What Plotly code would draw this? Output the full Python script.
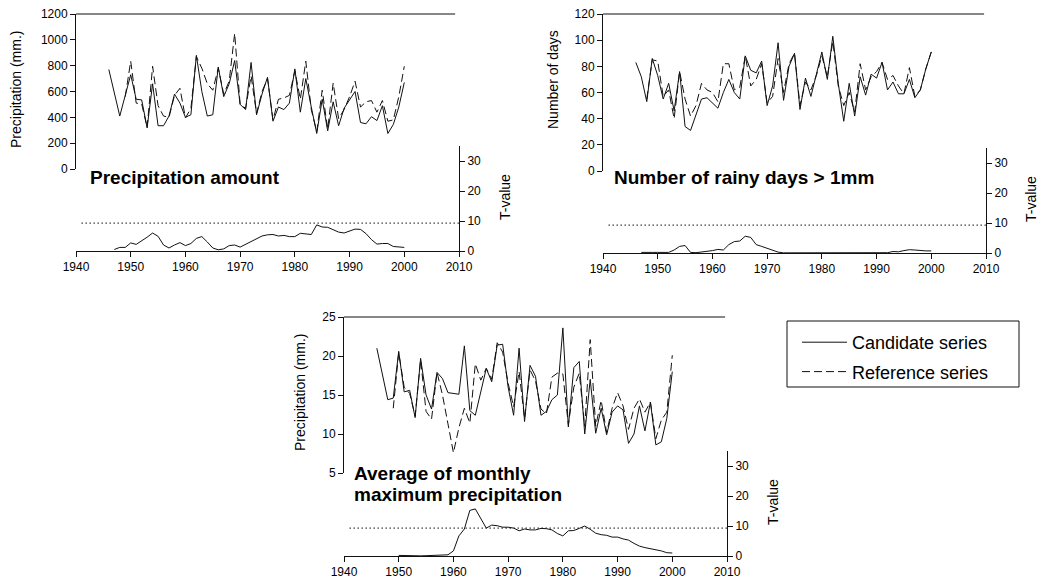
import plotly.graph_objects as go

# ---------------- data ----------------
years = list(range(1946, 2001))

# Panel 1: precipitation amount (mm)
p1_candidate = [770, 590, 410, 570, 730, 540, 535, 320, 660, 335,
                335, 410, 580, 510, 400, 420, 880, 600, 410, 420,
                790, 560, 660, 840, 500, 460, 825, 420, 580, 710,
                370, 480, 460, 510, 775, 440, 700, 480, 275, 540,
                295, 520, 335, 470, 540, 600, 360, 350, 405, 375,
                490, 275, 345, 480, 670]
p1_ref_years = list(range(1949, 2001))
p1_reference = [560, 835, 510, 505, 320, 795, 490, 410, 400, 570,
                625, 395, 470, 870, 780, 660, 610, 780, 580, 680,
                1050, 500, 470, 720, 430, 600, 700, 380, 540, 550,
                570, 760, 540, 835, 460, 290, 610, 310, 665, 390,
                460, 560, 680, 480, 520, 530, 440, 530, 370, 380,
                560, 795]
t_years_a = list(range(1947, 2001))
p1_tvalue = [0.5, 1.2, 1.2, 2.7, 2.2, 3.3, 4.6, 6.0, 4.9, 2.0,
             1.0, 2.0, 2.8, 1.8, 2.5, 4.2, 4.8, 3.0, 1.0, 0.4,
             0.7, 1.8, 2.0, 1.3, 2.2, 3.2, 4.0, 5.0, 5.4, 5.5,
             5.0, 5.2, 4.8, 4.8, 5.9, 5.8, 5.5, 8.7, 8.0, 7.9,
             7.2, 6.3, 6.0, 6.6, 7.3, 7.2, 5.8, 3.8, 2.3, 2.5,
             2.5, 1.5, 1.4, 1.2]

# Panel 2: number of rainy days > 1mm
p2_candidate = [83, 72, 53, 86, 73, 55, 67, 46, 76, 34,
                31, 43, 55, 56, 52, 48, 60, 70, 60, 55,
                88, 77, 75, 84, 50, 65, 98, 54, 80, 90,
                47, 71, 57, 73, 91, 70, 103, 67, 38, 67,
                42, 72, 58, 74, 71, 83, 62, 68, 59, 59,
                70, 56, 62, 78, 91]
p2_ref_years = list(range(1948, 2001))
p2_reference = [55, 85, 84, 57, 62, 40, 76, 55, 42, 50,
                67, 62, 60, 53, 82, 82, 62, 64, 88, 65,
                70, 82, 52, 57, 86, 60, 82, 90, 50, 68,
                62, 73, 88, 72, 99, 65, 50, 60, 45, 82,
                62, 72, 76, 83, 70, 73, 65, 59, 79, 57,
                62, 78, 91]
p2_tvalue = [0.2, 0.3, 0.2, 0.2, 0.1, 0.2, 1.0, 2.2, 2.5, 0.2,
             0.1, 0.3, 0.6, 0.8, 1.2, 1.0, 2.8, 3.8, 4.0, 5.6,
             5.2, 2.8, 2.2, 1.5, 0.9, 0.3, 0.05, 0.05, 0.05, 0.05,
             0.05, 0.05, 0.05, 0.05, 0.05, 0.05, 0.05, 0.05, 0.05, 0.05,
             0.05, 0.05, 0.05, 0.05, 0.05, 0.1, 0.5, 0.4, 0.8, 1.1,
             1.0, 0.8, 0.7, 0.7]

# Panel 3: average of monthly maximum precipitation (mm)
p3_candidate = [21.0, 17.5, 14.4, 14.6, 20.6, 15.4, 15.6, 12.1, 19.7, 15.0,
                13.2, 17.9, 17.1, 15.3, 15.2, 15.1, 21.3, 13.0, 12.4, 15.5,
                18.4, 16.7, 21.4, 21.5, 16.0, 12.4, 21.0, 11.6, 18.8, 17.4,
                12.4, 12.9, 14.4, 15.0, 23.6, 10.9, 18.5, 19.3, 10.0, 17.0,
                10.1, 13.3, 9.9, 12.8, 13.6, 13.1, 8.8, 10.0, 13.6, 10.4,
                14.1, 8.6, 9.0, 12.0, 18.0]
p3_ref_years = list(range(1949, 2001))
p3_reference = [13.3, 20.4, 16.0, 15.2, 12.3, 19.5, 12.9, 11.9, 17.9, 15.0,
                11.3, 7.6, 10.8, 13.3, 11.4, 19.0, 16.9, 18.4, 17.0, 21.7,
                20.5, 16.5, 13.5, 18.0, 12.0, 18.2, 16.8, 13.2, 12.6, 17.3,
                17.8, 17.7, 11.2, 16.0, 17.8, 11.0, 22.1, 11.0, 14.3, 10.2,
                13.3, 15.3, 13.6, 10.6, 13.3, 14.5, 12.8, 14.1, 9.4, 11.8,
                12.8, 20.1]
t_years_c = list(range(1950, 2001))
p3_tvalue = [0.2, 0.1, 0.05, 0.05, 0.05, 0.1, 0.2, 0.3, 0.2, 0.4,
             1.7, 6.7, 9.0, 15.2, 15.7, 12.4, 9.3, 10.3, 10.1, 9.6,
             9.6, 9.3, 8.4, 9.0, 8.7, 8.7, 9.2, 9.1, 8.7, 7.5,
             6.7, 8.4, 8.5, 9.2, 10.0, 8.9, 7.6, 7.1, 6.9, 6.3,
             6.3, 5.7, 5.3, 4.2, 3.3, 2.8, 2.5, 2.2, 1.7, 1.1,
             1.0]

crit_years = [1941, 2010]
crit_value = 9.3

x_ticks = [1940, 1950, 1960, 1970, 1980, 1990, 2000, 2010]
t_ticks = [0, 10, 20, 30]

panel_titles = [["Precipitation amount"], ["Number of rainy days > 1mm"],
                ["Average of monthly", "maximum precipitation"]]
left_titles = ["Precipitation (mm.)", "Number of days", "Precipitation (mm.)"]
right_title = "T-value"
legend_names = ["Candidate series", "Reference series"]

# ---------------- layout geometry (pixels) ----------------
W, H = 1040, 585
FONT = "Liberation Sans, Arial, sans-serif"
INK = "#111111"


def fx(p):
    return p / W


def fy(p):
    return 1 - p / H


panels = [
    dict(xd=(76, 459), yu=(169, 14), yt=(251, 146), urange=[0, 1200],
         uticks=[0, 200, 400, 600, 800, 1000, 1200],
         cand=p1_candidate, ref_x=p1_ref_years, ref=p1_reference,
         tx=t_years_a, t=p1_tvalue, top_end=0.99,
         ltitle=(16, 90), rtitle=(505, 197), ptitle=(88, [177])),
    dict(xd=(603, 986), yu=(171, 14), yt=(253, 148), urange=[0, 120],
         uticks=[0, 20, 40, 60, 80, 100, 120],
         cand=p2_candidate, ref_x=p2_ref_years, ref=p2_reference,
         tx=t_years_a, t=p2_tvalue, top_end=0.995,
         ltitle=(553, 80), rtitle=(1031, 199), ptitle=(612, [177])),
    dict(xd=(344, 727), yu=(473, 317), yt=(556, 451), urange=[5, 25],
         uticks=[5, 10, 15, 20, 25],
         cand=p3_candidate, ref_x=p3_ref_years, ref=p3_reference,
         tx=t_years_c, t=p3_tvalue, top_end=0.995,
         ltitle=(300, 393), rtitle=(773, 502), ptitle=(352, [473, 494])),
]

fig = go.Figure()
layout = dict(
    width=W, height=H, margin=dict(l=0, r=0, t=0, b=0, autoexpand=False),
    paper_bgcolor="white", plot_bgcolor="white",
    showlegend=True, hovermode=False,
    font=dict(family=FONT, color="#000000", size=12),
)
shapes = []
annotations = []

axis_common = dict(
    showline=True, linecolor=INK, linewidth=1, ticks="outside", ticklen=5,
    tickwidth=1, tickcolor=INK, showgrid=False, zeroline=False,
    automargin=False,
    tickfont=dict(family=FONT, size=12, color="#000000"), fixedrange=True,
)

for i, p in enumerate(panels):
    xn = "x" if i == 0 else f"x{i + 1}"
    xkey = "xaxis" if i == 0 else f"xaxis{i + 1}"
    kt, ku = 2 * i + 1, 2 * i + 2
    ytn = "y" if kt == 1 else f"y{kt}"
    yun = f"y{ku}"
    ytkey = "yaxis" if kt == 1 else f"yaxis{kt}"
    yukey = f"yaxis{ku}"

    layout[xkey] = dict(axis_common, domain=[fx(p["xd"][0]), fx(p["xd"][1])],
                        range=[1940, 2010], tickvals=x_ticks, anchor=ytn)
    layout[ytkey] = dict(axis_common, domain=[fy(p["yt"][0]), fy(p["yt"][1])],
                         range=[0, 35], tickvals=t_ticks, side="right", anchor=xn)
    layout[yukey] = dict(axis_common, domain=[fy(p["yu"][0]), fy(p["yu"][1])],
                         range=p["urange"], tickvals=p["uticks"], side="left",
                         anchor=xn)

    first = (i == 0)
    fig.add_trace(go.Scatter(x=years, y=p["cand"], mode="lines",
                             line=dict(color=INK, width=1),
                             name=legend_names[0], legendgroup="cand",
                             showlegend=first, xaxis=xn, yaxis=yun))
    fig.add_trace(go.Scatter(x=p["ref_x"], y=p["ref"], mode="lines",
                             line=dict(color=INK, width=1, dash="8px,4px"),
                             name=legend_names[1], legendgroup="ref",
                             showlegend=first, xaxis=xn, yaxis=yun))
    fig.add_trace(go.Scatter(x=p["tx"], y=p["t"], mode="lines",
                             line=dict(color=INK, width=1),
                             showlegend=False, xaxis=xn, yaxis=ytn))
    fig.add_trace(go.Scatter(x=crit_years, y=[crit_value, crit_value],
                             mode="lines",
                             line=dict(color=INK, width=1, dash="1.5px,2.5px"),
                             showlegend=False, xaxis=xn, yaxis=ytn))

    # top frame line of the upper plot
    shapes.append(dict(type="line", xref=f"{xn} domain", yref=f"{yun} domain",
                       x0=0, x1=p["top_end"], y0=1, y1=1,
                       line=dict(color=INK, width=1)))

    lx, ly = p["ltitle"]
    annotations.append(dict(text=left_titles[i], x=fx(lx), y=fy(ly),
                            xref="paper", yref="paper", showarrow=False,
                            textangle=-90, xanchor="center", yanchor="middle",
                            font=dict(family=FONT, size=14, color="#000000")))
    rx, ry = p["rtitle"]
    annotations.append(dict(text=right_title, x=fx(rx), y=fy(ry),
                            xref="paper", yref="paper", showarrow=False,
                            textangle=-90, xanchor="center", yanchor="middle",
                            font=dict(family=FONT, size=14, color="#000000")))
    tx0, tys = p["ptitle"]
    for line_text, ty in zip(panel_titles[i], tys):
        annotations.append(dict(text=f"<b>{line_text}</b>", x=fx(tx0), y=fy(ty),
                                xref="paper", yref="paper", showarrow=False,
                                xanchor="left", yanchor="middle",
                                font=dict(family=FONT, size=19, color="#000000")))

# legend frame
shapes.append(dict(type="rect", xref="paper", yref="paper",
                   x0=fx(787), x1=fx(1019), y0=fy(387), y1=fy(321),
                   line=dict(color=INK, width=1), fillcolor="rgba(0,0,0,0)"))

layout["shapes"] = shapes
layout["annotations"] = annotations
layout["legend"] = dict(x=fx(797), y=fy(324), xanchor="left", yanchor="top",
                        bgcolor="rgba(0,0,0,0)", borderwidth=0,
                        font=dict(family=FONT, size=18, color="#000000"),
                        traceorder="grouped", tracegroupgap=3, itemwidth=45)

fig.update_layout(**layout)
fig.write_html("out.html", config={"displayModeBar": False})
